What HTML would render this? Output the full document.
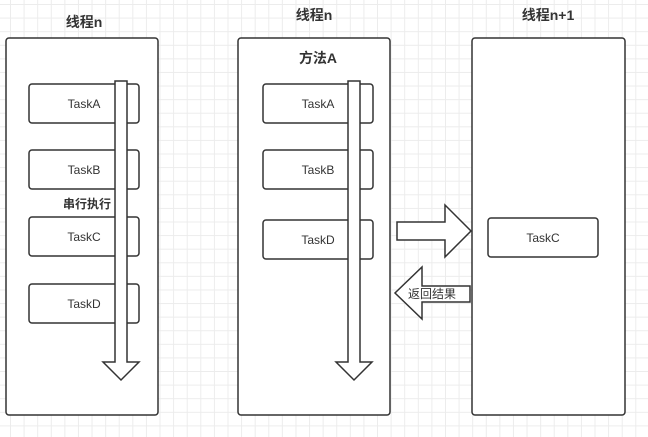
<!DOCTYPE html>
<html><head><meta charset="utf-8"><style>
body{margin:0;width:648px;height:437px;overflow:hidden;background:#fff;
background-image:linear-gradient(#ececec 1px,transparent 1px),linear-gradient(90deg,#ececec 1px,transparent 1px);
background-size:13.6px 13.6px;background-position:10px 4px;}
svg{position:absolute;left:0;top:0}
text{font-family:"Liberation Sans","Noto Sans CJK SC",sans-serif;fill:#333}
</style></head><body>
<svg width="648" height="437" viewBox="0 0 648 437">
<g fill="#fff" stroke="#333" stroke-width="1.5">
<rect x="6" y="38" width="152" height="377" rx="3"/>
<rect x="238" y="38" width="152" height="377" rx="3"/>
<rect x="472" y="38" width="153" height="377" rx="3"/>
<rect x="29" y="84" width="110" height="39" rx="3"/>
<rect x="29" y="150" width="110" height="39" rx="3"/>
<rect x="29" y="217" width="110" height="39" rx="3"/>
<rect x="29" y="284" width="110" height="39" rx="3"/>
<rect x="263" y="84" width="110" height="39" rx="3"/>
<rect x="263" y="150" width="110" height="39" rx="3"/>
<rect x="263" y="220" width="110" height="39" rx="3"/>
<rect x="488" y="218" width="110" height="39" rx="3"/>
<polygon points="115,81 127,81 127,362 139,362 121,380 103,362 115,362"/>
<polygon points="348,81 360,81 360,362 372,362 354,380 336,362 348,362"/>
<polygon points="397,222 445,222 445,205 471,231 445,257 445,240 397,240"/>
<polygon points="470,286 422,286 422,267 395,293 422,319 422,302 470,302"/>
</g>
<g font-size="12" text-anchor="middle">
<text x="84" y="108">TaskA</text><text x="84" y="174">TaskB</text>
<text x="84" y="241">TaskC</text><text x="84" y="308">TaskD</text>
<text x="318" y="108">TaskA</text><text x="318" y="174">TaskB</text>
<text x="318" y="244">TaskD</text><text x="543" y="242">TaskC</text>
<text x="432" y="298">返回结果</text>
</g>
<g font-size="14" font-weight="bold" text-anchor="middle">
<text x="84" y="27">线程n</text>
<text x="314" y="20">线程n</text>
<text x="548" y="20">线程n+1</text>
<text x="318" y="63">方法A</text>
<text x="87" y="208" font-size="12">串行执行</text>
</g>
</svg>
</body></html>
